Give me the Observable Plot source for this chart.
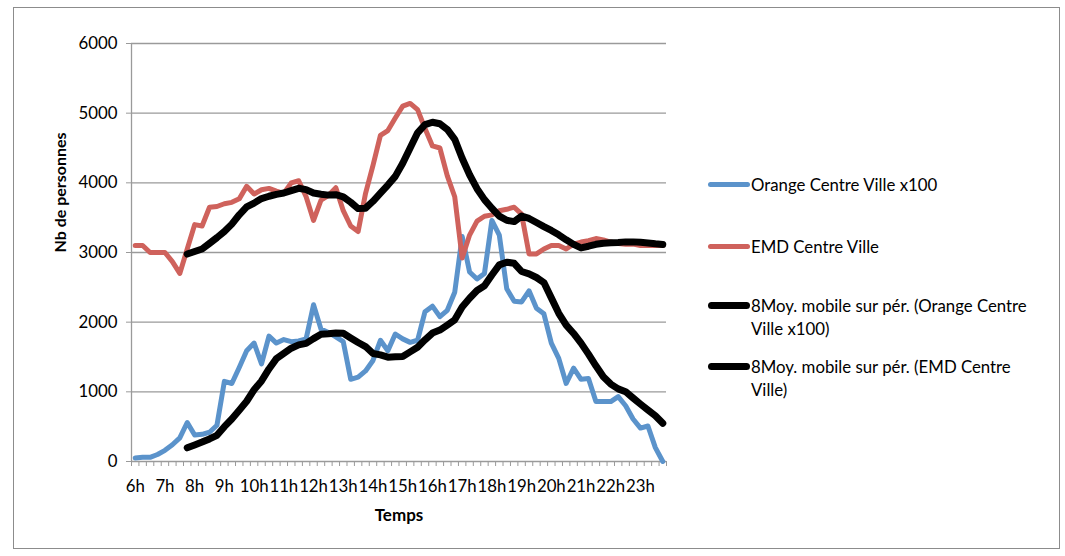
<!DOCTYPE html>
<html>
<head>
<meta charset="utf-8">
<script src="https://cdn.jsdelivr.net/npm/d3@7"></script>
<script src="https://cdn.jsdelivr.net/npm/@observablehq/plot@0.6"></script>
<style>
  html, body { margin: 0; padding: 0; background: #fff; }
  #wrap { position: relative; width: 1065px; height: 556px; overflow: hidden; font-family: Lato, "Open Sans", sans-serif; }
  #frame { position: absolute; left: 13px; top: 7px; width: 1047px; height: 542px; border: 1px solid #8c8c8c; box-sizing: border-box; }
  #chart { position: absolute; left: 0; top: 0; }
  .leg { position: absolute; left: 706px; font-size: 16.8px; line-height: 23px; color: #000; white-space: nowrap; }
  .leg .sw { position: absolute; left: 2px; width: 42px; border-radius: 4px; }
  .leg .tx { position: absolute; left: 45px; top: 0; }
</style>
</head>
<body>
<div id="wrap">
  <div id="frame"></div>
  <div id="chart"></div>
  <div id="legend"></div>
</div>
<script>
// Categories: quarter-hour slots from 6h to 23h45
const slotsPerHour = 4;
const firstHour = 6;
const hourLabels = [6,7,8,9,10,11,12,13,14,15,16,17,18,19,20,21,22,23];
const yTicks = [0,1000,2000,3000,4000,5000,6000];

// Series values
const orange = [
  50,60,60,100,160,240,340,560,380,390,420,520,
  1150,1120,1350,1590,1700,1400,1800,1700,1750,1720,1730,1760,
  2250,1900,1850,1790,1720,1180,1210,1300,1450,1740,1590,1830,
  1760,1710,1740,2150,2230,2080,2170,2430,3230,2720,2620,2700,
  3460,3250,2480,2300,2290,2450,2200,2120,1700,1480,1120,1340,
  1180,1190,860,860,860,930,800,610,480,510,200,0
];
const emd = [
  3100,3100,3000,3000,3000,2870,2700,3050,3400,3380,3650,3660,
  3700,3720,3770,3950,3840,3900,3920,3880,3850,4000,4030,3800,
  3460,3750,3820,3930,3600,3380,3300,3850,4250,4680,4750,4930,
  5100,5140,5050,4780,4530,4500,4100,3800,2920,3250,3450,3520,
  3540,3600,3620,3650,3550,2980,2980,3050,3100,3100,3050,3120,
  3150,3170,3200,3180,3150,3130,3120,3120,3100,3100,3100,3100
];

const seriesNames = [
  "Orange Centre Ville x100",
  "EMD Centre Ville",
  "8Moy. mobile sur pér. (Orange Centre Ville x100)",
  "8Moy. mobile sur pér. (EMD Centre Ville)"
];
const colors = ["#5b93cb", "#cf625c", "#000000", "#000000"];

const slots = orange.map((_, i) => firstHour + i / slotsPerHour);
const half = 0.5 / slotsPerHour;
const bounds = slots.map(t => t - half).concat([slots[slots.length - 1] + half]);
const toRows = vals => slots.map((t, i) => ({t, v: vals[i]}));
const orangeRows = toRows(orange);
const emdRows = toRows(emd);

const W = 1065, H = 556;
const plotLeft = 131, plotRight = 666, plotTop = 43, plotBottom = 461;

const chart = Plot.plot({
  width: W,
  height: H,
  marginLeft: plotLeft,
  marginRight: W - plotRight,
  marginTop: plotTop,
  marginBottom: H - plotBottom,
  style: {fontFamily: "Lato, 'Open Sans', sans-serif", fontSize: "16.8px", color: "#000", background: "transparent", overflow: "visible"},
  x: {domain: [bounds[0], bounds[bounds.length - 1]], axis: null},
  y: {domain: [0, 6000], axis: null},
  marks: [
    Plot.gridY(yTicks, {stroke: "#9a9a9a", strokeOpacity: 1, strokeWidth: 1.3}),
    Plot.axisY(yTicks, {tickSize: 5, tickPadding: 9, stroke: "#9a9a9a", fill: "#000", label: null, tickFormat: d => String(d)}),
    Plot.ruleX([bounds[0]], {stroke: "#9a9a9a", strokeWidth: 1.3}),
    Plot.axisX(bounds, {tickSize: 5, tickPadding: 0, stroke: "#9a9a9a", label: null, tickFormat: () => ""}),
    Plot.axisX(hourLabels, {tickSize: 0, tickPadding: 19, fill: "#000", label: null, tickFormat: d => d + "h"}),
    Plot.line(orangeRows, {x: "t", y: "v", stroke: colors[0], strokeWidth: 5, strokeLinejoin: "round", strokeLinecap: "round"}),
    Plot.line(emdRows, {x: "t", y: "v", stroke: colors[1], strokeWidth: 5, strokeLinejoin: "round", strokeLinecap: "round"}),
    Plot.line(orangeRows, Plot.windowY({k: 8, anchor: "end", strict: true, reduce: "mean"}, {x: "t", y: "v", stroke: colors[2], strokeWidth: 7, strokeLinejoin: "round", strokeLinecap: "round"})),
    Plot.line(emdRows, Plot.windowY({k: 8, anchor: "end", strict: true, reduce: "mean"}, {x: "t", y: "v", stroke: colors[3], strokeWidth: 7, strokeLinejoin: "round", strokeLinecap: "round"})),
    Plot.text(["Nb de personnes"], {frameAnchor: "left", dx: -71, rotate: -90, fontWeight: "bold", fontSize: 16, fill: "#000"}),
    Plot.text(["Temps"], {frameAnchor: "bottom", dy: 59, fontWeight: "bold", fontSize: 17, fill: "#000"})
  ]
});
document.getElementById("chart").appendChild(chart);

// Legend (right side)
const legendLines = [
  ["Orange Centre Ville x100"],
  ["EMD Centre Ville"],
  ["8Moy. mobile sur pér. (Orange Centre", "Ville x100)"],
  ["8Moy. mobile sur pér. (EMD Centre", "Ville)"]
];
const legendTop = [184, 246, 305, 366];
const leg = document.getElementById("legend");
legendLines.forEach((lines, i) => {
  const d = document.createElement("div");
  d.className = "leg";
  d.style.top = (legendTop[i] - 11.5) + "px";
  const sw = document.createElement("div");
  sw.className = "sw";
  const th = i >= 2 ? 7 : 5;
  sw.style.height = th + "px";
  sw.style.top = (11.5 - th / 2) + "px";
  sw.style.background = colors[i];
  const tx = document.createElement("div");
  tx.className = "tx";
  tx.innerHTML = lines.join("<br>");
  d.appendChild(sw);
  d.appendChild(tx);
  leg.appendChild(d);
});
</script>
</body>
</html>
